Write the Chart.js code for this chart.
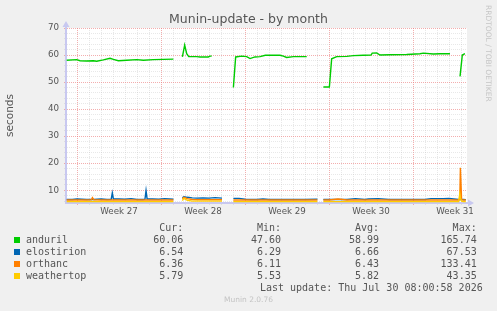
<!DOCTYPE html>
<html lang="en">
<head>
<meta charset="UTF-8">
<title>Munin-update - by month</title>
<script src="https://cdn.jsdelivr.net/npm/chart.js@4.4.1/dist/chart.umd.min.js"></script>
<style>
  body { margin: 0; background: #f0f0f0; }
  #wrap { position: relative; width: 497px; height: 311px; overflow: hidden;
          font-family: "DejaVu Sans", sans-serif; color: #555; }
  #wrap canvas { position: absolute; left: 0; top: 0; }
  #title { position: absolute; left: 0; top: 11px; width: 497px; text-align: center;
           font-size: 12.5px; line-height: 15px; }
  #rrd { position: absolute; left: 484px; top: 5px; writing-mode: vertical-rl;
         font-size: 7.5px; line-height: 8px; color: #c6c6c6; white-space: nowrap; }
  #ver { position: absolute; left: 0; top: 295px; width: 497px; text-align: center;
         font-size: 7.5px; line-height: 9px; color: #c4c4c4; }
  .mono { position: absolute; font-family: "DejaVu Sans Mono", monospace; font-size: 10px;
          line-height: 12px; white-space: pre; color: #555; }
  .sq { position: absolute; width: 6px; height: 6px; }
</style>
</head>
<body>
<div id="wrap">
  <canvas id="chart" width="497" height="311"></canvas>
  <div id="title">Munin-update - by month</div>
  <div id="rrd">RRDTOOL / TOBI OETIKER</div>
  <div id="legend"></div>
  <div id="ver">Munin 2.0.76</div>
</div>
<script>
// x values are days since Monday of week 27
const weekLabels = ['Week 27', 'Week 28', 'Week 29', 'Week 30', 'Week 31'];
const weekMid = [3.5, 10.5, 17.5, 24.5, 31.5];
const xMin = -0.92, xMax = 32.5;
const yMin = 5.3, yMax = 70;

const andurilDays = [-0.86, -0.03, 0.25, 0.8, 1.36, 1.64, 2.19, 2.75, 3.03, 3.44, 4.14, 4.97, 5.53, 6.36, 7.19, 8.03, 8.4,
  8.78, 8.97, 9.14, 9.31, 9.97, 10.25, 10.94, 11.08, 11.22, 12.1,
  13.03, 13.22, 13.72, 14.14, 14.42, 14.83, 15.25, 15.69, 16.92, 17.19, 17.47, 18.03, 18.58, 19.14, 19.8,
  20.53, 21.03, 21.22, 21.64, 22.47, 23.03, 23.86, 24.5, 24.6, 24.97, 25.25, 26.08, 27.47, 28.58, 28.86, 29.69, 30.25, 31.08, 31.5,
  31.92, 32.11, 32.33];
const andurilVals = [58.1, 58.3, 57.9, 57.8, 57.9, 57.7, 58.2, 58.8, 58.4, 57.9, 58.1, 58.3, 58.1, 58.3, 58.4, 58.5, null,
  59.3, 63.7, 60.5, 59.4, 59.4, 59.3, 59.3, 59.6, 59.6, null,
  48.0, 59.3, 59.6, 59.4, 58.7, 59.3, 59.4, 59.9, 59.9, 59.6, 59.1, 59.4, 59.4, 59.4, null,
  48.2, 48.2, 58.6, 59.4, 59.5, 59.8, 59.9, 60.0, 60.7, 60.8, 60.0, 60.1, 60.2, 60.5, 60.7, 60.4, 60.5, 60.5, null,
  52.1, 60.0, 60.5];

const bottomDays = [-0.86, -0.4, 0.0, 0.4, 0.8, 1.2, 1.28, 1.4, 2.0, 2.5, 2.85, 2.94, 3.03, 3.5, 4.0, 4.5, 5.0, 5.5,
  5.66, 5.75, 5.84, 6.3, 6.8, 7.3, 7.7, 8.03, 8.4,
  8.78, 8.9, 9.2, 9.6, 10.0, 10.5, 11.0, 11.5, 12.08, 12.5,
  13.03, 13.5, 14.0, 14.5, 15.0, 15.5, 16.0, 17.0, 18.0, 19.0, 20.03, 20.3,
  20.53, 21.0, 21.75, 22.5, 23.2, 24.0, 24.3, 25.1, 26.0, 27.0, 28.0, 29.0, 29.5, 30.5, 31.0, 31.4, 31.8, 31.9, 31.95,
  32.05, 32.2, 32.4];
const elostirionVals = [6.6, 6.6, 6.8, 6.7, 6.6, 6.6, 6.6, 6.6, 6.8, 6.6, 6.7, 9.0, 6.8, 6.8, 6.7, 6.9, 6.6, 6.6,
  6.7, 9.9, 6.8, 6.8, 6.7, 6.9, 6.8, 6.7, null,
  7.2, 7.6, 7.4, 7.2, 7.1, 7.2, 7.1, 7.3, 7.1, null,
  7.0, 7.0, 6.7, 6.6, 6.6, 6.8, 6.6, 6.6, 6.6, 6.6, 6.7, null,
  6.6, 6.6, 6.6, 6.6, 6.9, 6.6, 6.8, 6.9, 6.6, 6.6, 6.6, 6.6, 6.9, 6.9, 7.0, 6.8, 6.6, 6.6, 6.7,
  6.6, 6.6, 6.5];
const orthancVals = [6.4, 6.4, 6.4, 6.4, 6.4, 6.5, 7.3, 6.5, 6.4, 6.4, 6.4, 6.4, 6.4, 6.4, 6.4, 6.4, 6.4, 6.4,
  6.4, 6.4, 6.4, 6.4, 6.4, 6.4, 6.4, 6.4, null,
  6.9, 7.4, 6.9, 6.6, 6.5, 6.5, 6.5, 6.5, 6.5, null,
  6.4, 6.4, 6.4, 6.4, 6.4, 6.4, 6.4, 6.4, 6.4, 6.4, 6.4, null,
  6.4, 6.4, 6.8, 6.4, 6.4, 6.4, 6.4, 6.4, 6.4, 6.4, 6.4, 6.4, 6.4, 6.4, 6.4, 6.4, 6.4, 6.5, 18.3,
  6.5, 6.4, 6.4];
const weathertopVals = [5.8, 5.8, 5.8, 5.8, 5.8, 5.8, 5.9, 5.8, 5.8, 5.8, 5.8, 5.8, 5.8, 5.8, 5.8, 5.8, 5.8, 5.8,
  5.8, 5.8, 5.8, 5.8, 5.8, 5.8, 5.8, 5.8, null,
  6.2, 7.0, 6.3, 6.0, 6.0, 6.0, 6.0, 6.0, 6.0, null,
  5.8, 5.8, 5.8, 5.8, 5.8, 5.8, 5.8, 5.8, 5.8, 5.8, 5.8, null,
  5.8, 5.8, 5.8, 5.8, 5.8, 5.8, 5.8, 5.8, 5.8, 5.8, 5.8, 5.8, 5.8, 5.8, 5.8, 5.8, 5.8, 8.7, 7.0,
  6.0, 5.8, 5.8];

// legend table
const hosts = ['anduril', 'elostirion', 'orthanc', 'weathertop'];
const hostColors = ['#00cc00', '#0066b3', '#ff8000', '#ffcc00'];
const curVals = ['60.06', '6.54', '6.36', '5.79'];
const minVals = ['47.60', '6.29', '6.11', '5.53'];
const avgVals = ['58.99', '6.66', '6.43', '5.82'];
const maxVals = ['165.74', '67.53', '133.41', '43.35'];
const lastUpdate = 'Last update: Thu Jul 30 08:00:58 2026';

const gridRed = 'rgba(235,120,120,0.6)';
const gridGray = 'rgba(185,185,185,0.32)';
const axisColor = '#c8c8f0';

const xTicks = [];
for (let d = 0; d <= 32; d++) xTicks.push(d);
weekMid.forEach(v => xTicks.push(v));
xTicks.sort((a, b) => a - b);
const yTicks = [];
for (let v = 6; v <= 70; v += 2) yTicks.push(v);

function pts(days, vals) {
  return days.map((d, i) => ({ x: d, y: vals[i] }));
}

const seriesVals = [andurilVals, elostirionVals, orthancVals, weathertopVals];
const datasets = hosts.map((h, i) => ({
  label: h,
  data: i === 0 ? pts(andurilDays, andurilVals) : pts(bottomDays, seriesVals[i]),
  borderColor: hostColors[i],
  borderWidth: 1.4,
  pointRadius: 0,
  tension: 0,
  spanGaps: false,
  order: 3 - i
}));

const plotBg = {
  id: 'plotBg',
  beforeDraw(chart) {
    const { ctx, chartArea: a } = chart;
    ctx.save();
    ctx.fillStyle = '#ffffff';
    ctx.fillRect(a.left, a.top, a.right - a.left, a.bottom - a.top);
    ctx.restore();
  }
};

const arrows = {
  id: 'arrows',
  afterDraw(chart) {
    const { ctx, chartArea: a } = chart;
    ctx.save();
    ctx.strokeStyle = axisColor;
    ctx.fillStyle = axisColor;
    ctx.lineWidth = 2;
    ctx.beginPath();
    ctx.moveTo(a.left, a.top);
    ctx.lineTo(a.left, a.top - 2);
    ctx.moveTo(a.right, a.bottom);
    ctx.lineTo(a.right + 2, a.bottom);
    ctx.stroke();
    ctx.beginPath();
    ctx.moveTo(a.left - 3.5, a.top - 1);
    ctx.lineTo(a.left + 3.5, a.top - 1);
    ctx.lineTo(a.left, a.top - 7);
    ctx.closePath();
    ctx.fill();
    ctx.beginPath();
    ctx.moveTo(a.right + 1, a.bottom - 3.5);
    ctx.lineTo(a.right + 1, a.bottom + 3.5);
    ctx.lineTo(a.right + 7, a.bottom);
    ctx.closePath();
    ctx.fill();
    ctx.restore();
  }
};

Chart.defaults.font.family = "'DejaVu Sans', sans-serif";
Chart.defaults.color = '#555';

new Chart(document.getElementById('chart'), {
  type: 'line',
  data: { datasets },
  options: {
    responsive: false,
    animation: false,
    layout: { padding: { top: 28, left: 0, right: 30, bottom: 89 } },
    plugins: { legend: { display: false }, tooltip: { enabled: false } },
    scales: {
      x: {
        type: 'linear',
        min: xMin,
        max: xMax,
        afterBuildTicks: s => { s.ticks = xTicks.map(v => ({ value: v })); },
        afterFit: s => { s.height = 19; },
        ticks: {
          autoSkip: false,
          maxRotation: 0,
          padding: 2,
          font: { size: 8.7 },
          color: '#555',
          callback: v => { const i = weekMid.indexOf(v); return i >= 0 ? weekLabels[i] : ''; }
        },
        grid: {
          tickLength: 2,
          lineWidth: 1,
          color: c => weekMid.includes(c.tick.value) ? 'rgba(0,0,0,0)' : (c.tick.value % 7 === 0 ? gridRed : gridGray),
          tickColor: c => weekMid.includes(c.tick.value) ? 'rgba(0,0,0,0)' : (c.tick.value % 7 === 0 ? gridRed : gridGray)
        },
        border: { color: axisColor, width: 2, dash: [1, 1] }
      },
      y: {
        min: yMin,
        max: yMax,
        afterBuildTicks: s => { s.ticks = yTicks.map(v => ({ value: v })); },
        afterFit: s => { s.width = 66; },
        ticks: {
          autoSkip: false,
          padding: 5,
          font: { size: 8.7 },
          color: '#555',
          callback: v => (v % 10 === 0 ? v : '')
        },
        grid: {
          tickLength: 2,
          lineWidth: 1,
          color: c => (c.tick.value % 10 === 0 ? gridRed : gridGray),
          tickColor: c => (c.tick.value % 10 === 0 ? gridRed : gridGray)
        },
        border: { color: axisColor, width: 2, dash: [1, 1] },
        title: { display: true, text: 'seconds', font: { size: 10.5 }, color: '#555', padding: { top: 4, bottom: 0 } }
      }
    }
  },
  plugins: [plotBg, arrows]
});

// legend table as text
const legend = document.getElementById('legend');
const colRight = [183.3, 281, 379, 476.7];
function addText(txt, top, opts) {
  const el = document.createElement('div');
  el.className = 'mono';
  el.textContent = txt;
  el.style.top = top + 'px';
  if (opts.left !== undefined) el.style.left = opts.left + 'px';
  if (opts.right !== undefined) el.style.right = (497 - opts.right) + 'px';
  legend.appendChild(el);
}
['Cur:', 'Min:', 'Avg:', 'Max:'].forEach((h, j) => addText(h, 222, { right: colRight[j] }));
hosts.forEach((h, i) => {
  const top = 234 + i * 12;
  const sq = document.createElement('div');
  sq.className = 'sq';
  sq.style.left = '14px';
  sq.style.top = (top + 3) + 'px';
  sq.style.background = hostColors[i];
  legend.appendChild(sq);
  addText(h, top, { left: 26 });
  [curVals, minVals, avgVals, maxVals].forEach((col, j) => addText(col[i], top, { right: colRight[j] }));
});
addText(lastUpdate, 282, { right: 482.7 });
</script>
</body>
</html>
